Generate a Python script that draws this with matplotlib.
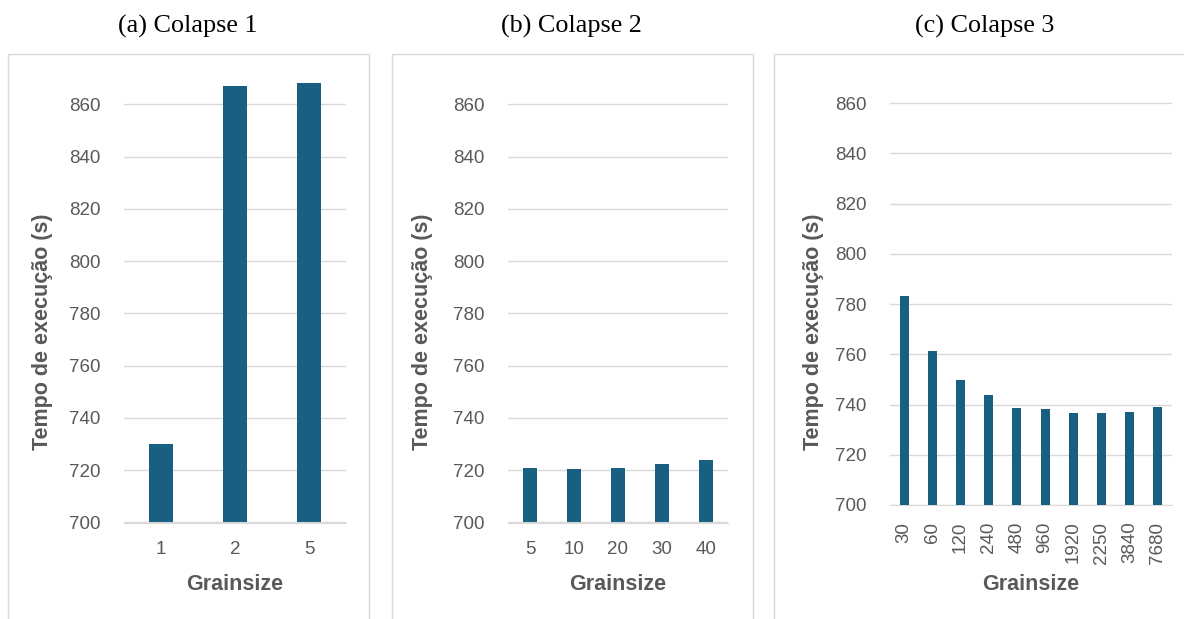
import matplotlib
matplotlib.use("Agg")
import matplotlib.pyplot as plt
from matplotlib.patches import Rectangle

# ── Dados ─────────────────────────────────────────────────────────
grain_c1 = ["1", "2", "5"]
tempo_c1 = [730.0, 867.0, 868.0]

grain_c2 = ["5", "10", "20", "30", "40"]
tempo_c2 = [721.0, 720.3, 720.7, 722.5, 724.0]

grain_c3 = ["30", "60", "120", "240", "480", "960", "1920", "2250", "3840", "7680"]
tempo_c3 = [783.3, 761.2, 749.9, 743.6, 738.7, 738.1, 736.6, 736.6, 737.2, 738.9]

titulos = ["(a) Colapse 1", "(b) Colapse 2", "(c) Colapse 3"]

COR_BARRA = "#185F82"
COR_TEXTO = "#595959"
COR_GRADE = "#D9D9D9"
W, H = 1184, 619

plt.rcParams["font.family"] = ["Liberation Sans", "DejaVu Sans"]

fig = plt.figure(figsize=(W / 100, H / 100), dpi=100)
fig.patch.set_facecolor("white")


def px_box(x0, y_top, x1, y_bot):
    # caixa em pixels (origem no canto superior esquerdo) -> fração da figura
    return [x0 / W, 1 - y_bot / H, (x1 - x0) / W, (y_bot - y_top) / H]


# Molduras cinzas de cada painel (atrás dos eixos)
for x0, x1 in [(8, 369), (392, 753), (774, 1190)]:
    fig.patches.append(Rectangle((x0 / W, -0.05), (x1 - x0) / W, 1.05 - 54 / H,
                                 transform=fig.transFigure, facecolor="white",
                                 edgecolor=COR_GRADE, linewidth=1.0, zorder=-1))

# (categorias, valores, caixa do eixo, rotação dos ticks, x do rótulo y, x do título)
paineis = [
    (grain_c1, tempo_c1, (124, 78.2, 346, 522.5), 0, 43, 188),
    (grain_c2, tempo_c2, (508, 78.2, 728, 522.5), 0, 423, 571),
    (grain_c3, tempo_c3, (890, 78.0, 1172, 505.0), 90, 813, 985),
]

for i, (cats, vals, caixa, rot, ylab_x, tit_x) in enumerate(paineis):
    ax = fig.add_axes(px_box(*caixa))
    ax.set_facecolor("none")
    x = range(len(cats))
    ax.bar(x, [v - 700 for v in vals], bottom=700, width=0.32,
           color=COR_BARRA, zorder=3)
    ax.set_xlim(-0.5, len(cats) - 0.5)
    ax.set_ylim(700, 870)
    ax.set_yticks(range(700, 861, 20))
    ax.set_xticks(list(x))
    ax.set_xticklabels(cats, rotation=rot)
    ax.grid(axis="y", color=COR_GRADE, linewidth=1.0, zorder=0)
    for s in ["top", "right", "left"]:
        ax.spines[s].set_visible(False)
    ax.spines["bottom"].set_color(COR_GRADE)
    ax.tick_params(length=0, labelsize=13.5, colors=COR_TEXTO)
    ax.tick_params(axis="y", pad=17)
    ax.tick_params(axis="x", pad=13 if rot == 0 else 12)

    cx = (caixa[0] + caixa[2]) / 2
    fig.text(cx / W, 1 - 584 / H, "Grainsize", ha="center", va="center",
             fontsize=15.5, fontweight="bold", color=COR_TEXTO)
    fig.text(ylab_x / W, 1 - 332 / H, "Tempo de execução (s)", ha="center",
             va="center", rotation=90, fontsize=15.5, fontweight="bold",
             color=COR_TEXTO)
    fig.text(tit_x / W, 1 - 26 / H, titulos[i], ha="center", va="center",
             fontsize=18.8, family=["Liberation Serif", "DejaVu Serif"], color="black")

fig.savefig("out.png", dpi=100, facecolor="white")
